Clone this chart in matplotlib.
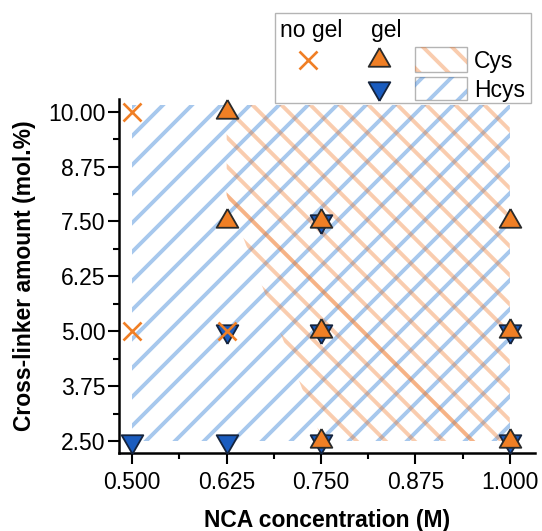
import matplotlib
matplotlib.use("Agg")
import matplotlib.pyplot as plt
from matplotlib.patches import Polygon, Rectangle
from matplotlib.collections import LineCollection
from matplotlib.transforms import IdentityTransform

# data
nca_ticks = [0.500, 0.625, 0.750, 0.875, 1.000]
xl_ticks = [2.50, 3.75, 5.00, 6.25, 7.50, 8.75, 10.00]

nogel_x = [0.500, 0.500, 0.625]
nogel_y = [10.0, 5.0, 5.0]

cys_gel_x = [0.625, 0.625, 0.750, 0.750, 0.750, 1.000, 1.000, 1.000]
cys_gel_y = [10.0, 7.5, 7.5, 5.0, 2.5, 7.5, 5.0, 2.5]

hcys_gel_x = [0.500, 0.625, 0.625, 0.750, 0.750, 0.750, 1.000, 1.000]
hcys_gel_y = [2.5, 2.5, 5.0, 7.5, 5.0, 2.5, 5.0, 2.5]

# gel regions (hatched areas)
hcys_region = [(0.500, 2.5), (0.500, 10.15), (1.000, 10.15), (1.000, 2.5)]
cys_region = [(0.625, 10.15), (1.000, 10.15), (1.000, 2.5), (0.752, 2.5), (0.625, 8.1)]

ORANGE = '#f07f25'
BLUE = '#1a5cbf'
HATCH_BLUE = '#3d85d8'
HATCH_ORANGE = '#f07a2c'

# equilateral triangles centred on their centroid (so up+down makes a star)
TRI_UP = [(0, 1), (-0.866, -0.5), (0.866, -0.5), (0, 1)]
TRI_DOWN = [(0, -1), (-0.866, 0.5), (0.866, 0.5), (0, -1)]

plt.rcParams['font.family'] = ['Liberation Sans', 'DejaVu Sans']
W, H = 542, 531
fig = plt.figure(figsize=(W / 100, H / 100), dpi=100)
ax = fig.add_axes([0.2201, 0.1469, 0.767, 0.6667])
ax.set_xlim(0.4828, 1.0334)
ax.set_ylim(2.2267, 10.29)
ax.set_autoscale_on(False)


def hatch(axis, patch, kind, color, alpha, spacing=29, phase=0, lw=2.8, z=1):
    # diagonal lines in pixel space, clipped to the patch
    segs = []
    for k in range(-60, 80):
        c = phase + spacing * k
        if kind == '/':
            segs.append([(-600, -600 + c), (1200, 1200 + c)])
        else:
            segs.append([(-600, c + 600), (1200, c - 1200)])
    lc = LineCollection(segs, colors=color, alpha=alpha, linewidths=lw,
                        transform=IdentityTransform(), zorder=z)
    axis.add_collection(lc, autolim=False)
    lc.set_clip_path(patch)
    return lc


p_h = Polygon(hcys_region, closed=True, fill=False, lw=0, transform=ax.transData)
ax.add_patch(p_h)
p_c = Polygon(cys_region, closed=True, fill=False, lw=0, transform=ax.transData)
ax.add_patch(p_c)

# the orange hatch is aligned on the region corner, where one line is stronger
vx, vy = ax.transData.transform(cys_region[-1])
cc = vx + vy
hatch(ax, p_h, '/', HATCH_BLUE, 0.45, phase=2, z=1)
hatch(ax, p_c, '\\', HATCH_ORANGE, 0.38, phase=cc % 29, z=1.1)
ln = LineCollection([[(-600, cc + 600), (1200, cc - 1200)]], colors=HATCH_ORANGE,
                    alpha=0.3, linewidths=2.8, transform=IdentityTransform(), zorder=1.2)
ax.add_collection(ln, autolim=False)
ln.set_clip_path(p_c)

ax.plot(hcys_gel_x, hcys_gel_y, marker=TRI_DOWN, ms=18, mfc=BLUE, mec='#14233d', mew=1.3,
        ls='none', zorder=3, clip_on=False)
ax.plot(cys_gel_x, cys_gel_y, marker=TRI_UP, ms=18, mfc=ORANGE, mec='#2a2a2a', mew=1.3,
        ls='none', zorder=4, clip_on=False)
ax.plot(nogel_x, nogel_y, 'x', ms=13, mec=ORANGE, mew=1.9,
        ls='none', zorder=5, clip_on=False)

ax.set_xticks(nca_ticks)
ax.set_xticklabels(['%.3f' % v for v in nca_ticks])
ax.set_yticks(xl_ticks)
ax.set_yticklabels(['%.2f' % v for v in xl_ticks])
ax.set_xticks([(a + b) / 2 for a, b in zip(nca_ticks[:-1], nca_ticks[1:])], minor=True)
ax.set_yticks([(a + b) / 2 for a, b in zip(xl_ticks[:-1], xl_ticks[1:])], minor=True)
ax.tick_params(which='major', direction='out', length=8, width=1.5, labelsize=16.5)
ax.tick_params(axis='x', which='major', pad=5)
ax.tick_params(axis='y', which='major', pad=2)
ax.tick_params(which='minor', direction='out', length=4, width=1.5)
for s in ['top', 'right']:
    ax.spines[s].set_visible(False)
for s in ['left', 'bottom']:
    ax.spines[s].set_linewidth(1.8)

ax.set_xlabel('NCA concentration (M)', fontsize=16.5, fontweight='bold', labelpad=11)
ax.set_ylabel('Cross-linker amount (mol.%)', fontsize=16.5, fontweight='bold', labelpad=9)

# legend drawn in pixel coordinates on an overlay axes
lg = fig.add_axes([0, 0, 1, 1], zorder=10)
lg.set_xlim(0, W)
lg.set_ylim(H, 0)
lg.axis('off')
lg.set_autoscale_on(False)
lg.add_patch(Rectangle((275, 13.3), 255.5, 90, fc='white', ec='#b4b4b4', lw=1.0))
lg.text(280, 37.5, 'no gel', fontsize=16.5, va='baseline', ha='left')
lg.text(371.5, 37.5, 'gel', fontsize=16.5, va='baseline', ha='left')
lg.plot([307.7], [60], 'x', ms=13, mec=ORANGE, mew=1.9)
lg.plot([379], [60], marker=TRI_UP, ms=18, mfc=ORANGE, mec='#2a2a2a', mew=1.3)
lg.plot([379], [88], marker=TRI_DOWN, ms=18, mfc=BLUE, mec='#14233d', mew=1.3)
r_c = Rectangle((415, 46.7), 51.7, 25, fc='white', ec='#b4b4b4', lw=1.0)
r_h = Rectangle((415, 76.7), 51.7, 23.3, fc='white', ec='#b4b4b4', lw=1.0)
lg.add_patch(r_c)
lg.add_patch(r_h)
hatch(lg, r_c, '\\', HATCH_ORANGE, 0.38, phase=8, z=3)
hatch(lg, r_h, '/', HATCH_BLUE, 0.45, phase=2, z=3)
lg.text(474, 68.3, 'Cys', fontsize=16.5, va='baseline', ha='left')
lg.text(474, 96.7, 'Hcys', fontsize=16.5, va='baseline', ha='left')

fig.savefig('out.png', dpi=100)
